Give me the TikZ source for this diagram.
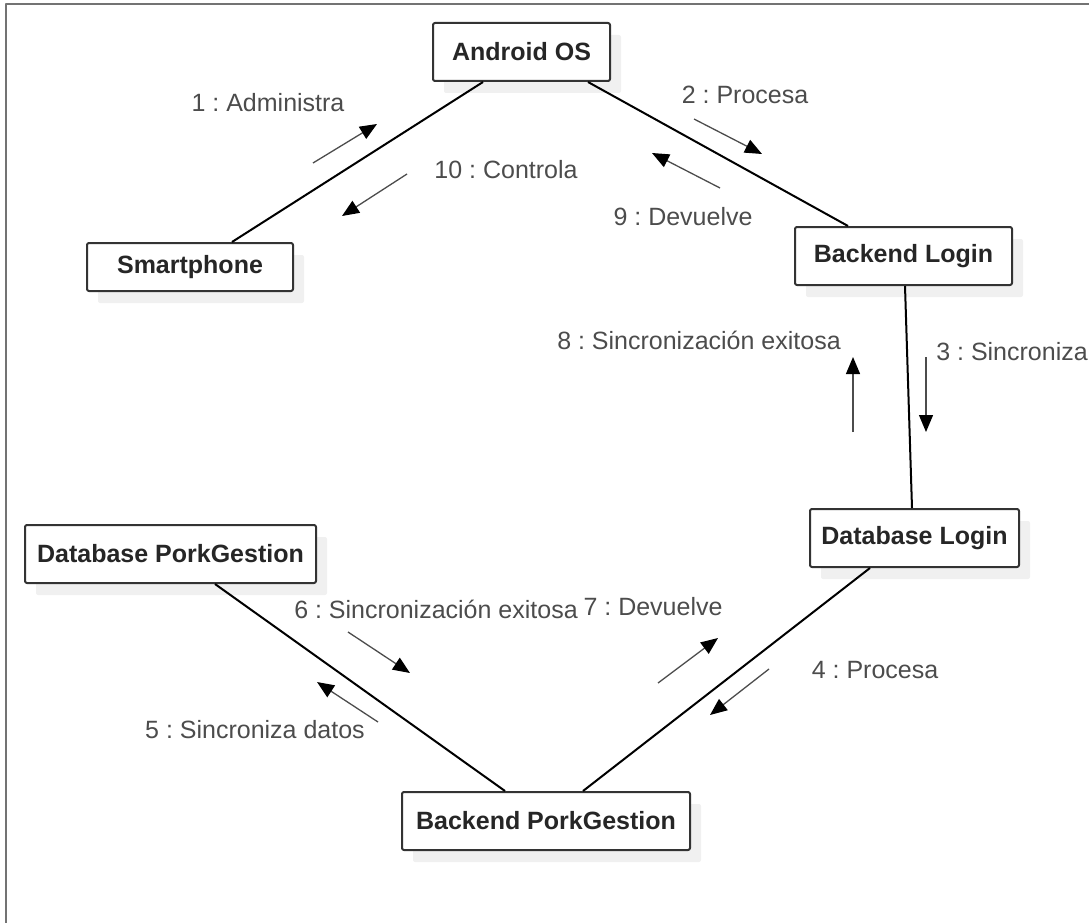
\documentclass[tikz,border=0pt]{standalone}
\usepackage{fontspec}
\setmainfont{Liberation Sans}
\usetikzlibrary{arrows.meta,shadows}
\frenchspacing
\tikzset{
	obj/.style={draw=black!80, line width=2pt, rounded corners=2pt, fill=white, inner sep=0pt,
		minimum height=58pt, text=black!85, font=\fontsize{25}{30}\selectfont\bfseries,
		drop shadow={shadow xshift=11pt, shadow yshift=-12pt, fill=black!6, opacity=1}},
	link/.style={line width=2pt, black},
	msg/.style={line width=1.3pt, black!70, -{Triangle[length=17pt,width=14pt,color=black]}},
	lbl/.style={inner sep=0pt, text=black!70, font=\fontsize{25}{30}\selectfont}
}
\begin{document}
\begin{tikzpicture}[x=1pt, y=-1pt, line join=round]
	\useasboundingbox (0,0) rectangle (1089,923);
	\draw[black!55, line width=2pt] (6,923) -- (6,4) -- (1089,4);
	% objects
	\node[obj, minimum width=177pt] (android) at (521.5,52) {Android OS};
	\node[obj, minimum width=206pt, minimum height=48pt] (smart) at (190,267) {Smartphone};
	\node[obj, minimum width=217pt] (blogin) at (903.5,256) {Backend Login};
	\node[obj, minimum width=209pt] (dblogin) at (914.5,538) {Database Login};
	\node[obj, minimum width=291pt] (dbpork) at (170.5,554) {Database PorkGestion};
	\node[obj, minimum width=288pt] (bpork) at (546,821) {Backend PorkGestion};
	% links
	\draw[link] ([xshift=42pt]smart.north) -- ([xshift=-38.5pt]android.south);
	\draw[link] ([xshift=66.5pt]android.south) -- ([xshift=-55.5pt]blogin.north);
	\draw[link] ([xshift=1.5pt]blogin.south) -- ([xshift=-2.5pt]dblogin.north);
	\draw[link] ([xshift=-44.5pt]dblogin.south) -- ([xshift=37pt]bpork.north);
	\draw[link] ([xshift=44.5pt]dbpork.south) -- ([xshift=-41pt]bpork.north);
	% messages
	\draw[msg] (313,163) -- (377,124);
	\node[lbl] (m1) at (268,103) {1 : Administra};
	\draw[msg] (407,174) -- (342,216);
	\node[lbl] (m10) at (506,170) {10 : Controla};
	\draw[msg] (694,119) -- (762,154);
	\node[lbl] (m2) at (745,95) {2 : Procesa};
	\draw[msg] (720,188) -- (652,153);
	\node[lbl] (m9) at (683,217) {9 : Devuelve};
	\draw[msg] (926,357) -- (926,432);
	\node[lbl] (m3) at (1012,352) {3 : Sincroniza};
	\draw[msg] (853,432) -- (853,357);
	\node[lbl] (m8) at (699,340) {8 : Sincronización exitosa};
	\draw[msg] (769,669) -- (710,715);
	\node[lbl] (m4) at (875,670) {4 : Procesa};
	\draw[msg] (658,683) -- (718,638);
	\node[lbl] (m7) at (653,607) {7 : Devuelve};
	\draw[msg] (348,632) -- (410,673);
	\node[lbl] (m6) at (436,609) {6 : Sincronización exitosa};
	\draw[msg] (378,722) -- (317,682);
	\node[lbl] (m5) at (255,730) {5 : Sincroniza datos};
\end{tikzpicture}
\end{document}
